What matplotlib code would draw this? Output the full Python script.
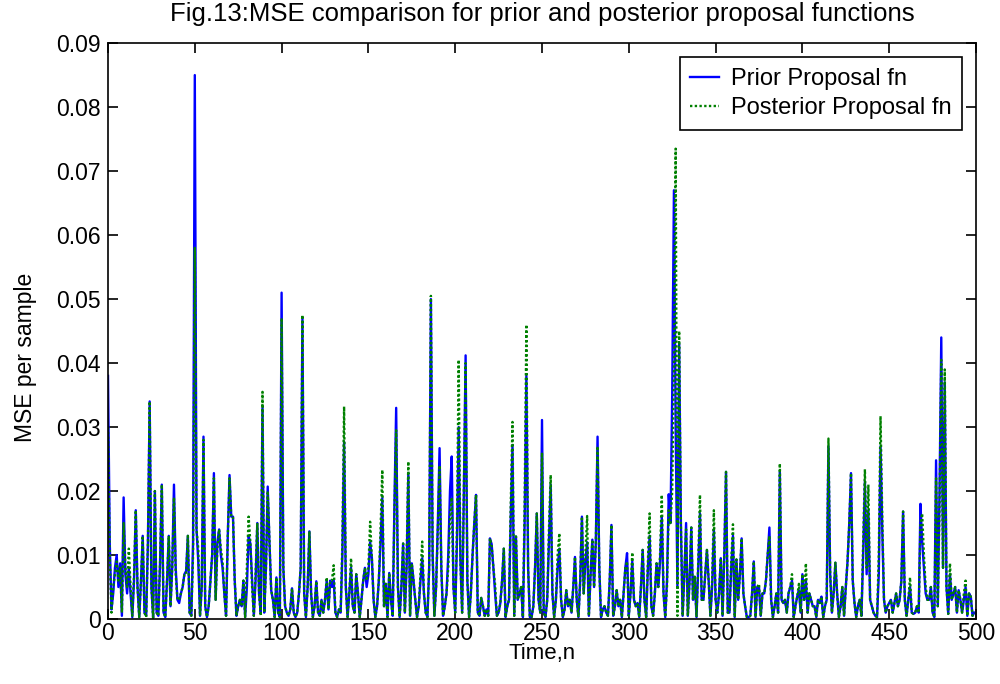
import numpy as np
import matplotlib
matplotlib.use("Agg")
import matplotlib.pyplot as plt

plt.rcParams['font.family'] = ['Liberation Sans', 'DejaVu Sans']

# MSE per sample, in units of 1e-3, for n = 0..499
prior_milli = [
    38, 12, 1.5, 4, 8, 10, 5, 8.7, 0.5, 19,
    7, 4, 8, 4, 0.3, 6, 17, 5, 0.3, 6,
    13, 1, 0.5, 12, 34, 5, 0.2, 20, 1, 0.5,
    9, 21, 1, 0.3, 6, 13, 2, 8, 21, 8,
    3, 2.5, 4, 5, 7, 7.5, 13, 1, 0.5, 12,
    85, 14, 9, 0.5, 5, 28.5, 2, 0.3, 2, 6,
    10, 22.8, 3, 12, 14, 10, 8, 4, 0.5, 13,
    22.5, 16, 16, 6, 0.5, 2, 3, 2, 6, 0.3,
    5, 13, 11.8, 6, 0.5, 6, 15, 4, 1, 33,
    1, 8, 20.7, 12, 4.5, 3, 0.3, 6.5, 1, 0.3,
    51, 8, 2, 1, 0.5, 1.5, 4.8, 1, 0.3, 1,
    4, 8, 47, 4, 0.3, 5, 13.7, 4, 0.3, 2,
    5.9, 1, 0.5, 3, 1, 3, 6, 1.5, 6, 5,
    6, 1, 0.3, 1.5, 1, 10, 27.7, 5, 0.3, 4,
    8, 2, 1, 7, 4, 0.3, 3, 6, 8, 5,
    7, 12, 9.5, 3, 0.3, 2, 6, 12, 18.9, 2,
    5.5, 0.3, 7.2, 3, 0.5, 18, 33, 5, 0.3, 5,
    11.8, 1, 8, 22.8, 0.5, 8.7, 6, 3, 0.3, 2,
    6, 9.5, 4, 1, 0.3, 8, 50, 10, 0.5, 5,
    15, 26.7, 8, 0.5, 2, 4, 10, 20, 25.4, 5,
    1, 12, 30, 9, 1, 20, 41.2, 6, 0.3, 4,
    10, 15, 19.4, 1, 0.5, 3.3, 2, 0.5, 1.5, 0.5,
    12.6, 11.7, 8, 4, 0.5, 1, 2.5, 6, 11, 0.3,
    2, 3, 16, 27.2, 0.5, 12.9, 3, 4, 5, 0.3,
    15, 38, 8, 0.3, 0.3, 2, 8, 16.5, 3, 1,
    31.1, 1, 0.3, 3, 12, 21, 4, 0.3, 3, 8,
    11, 3, 0.3, 1.5, 4.5, 2, 3, 1, 5, 9.7,
    3, 0.3, 6, 16, 4, 9, 12, 0.5, 7, 12.4,
    5, 12, 28.5, 8, 0.3, 1.5, 2, 1, 0.5, 6,
    14.7, 0.5, 2, 4.5, 2, 3, 0.3, 4, 8, 10.3,
    0.5, 4, 9, 3, 2, 2.5, 0.3, 5, 10.8, 3,
    0.3, 8, 13, 2, 0.5, 4, 8.7, 5, 9, 16,
    4, 0.3, 6, 19.5, 15, 35, 67, 30, 5, 43,
    15, 0.5, 7, 15, 0.5, 6, 14.3, 3, 6.6, 0.3,
    8, 16.5, 3, 3, 7, 10.8, 6, 0.5, 5, 14,
    3, 1, 4, 9.5, 0.5, 10, 23, 1, 1, 8,
    13, 0.3, 9.3, 3, 7, 12.6, 4, 2, 0.3, 0.3,
    0.5, 4, 9, 0.3, 5, 5, 0.5, 4, 4, 6,
    10, 14.3, 3, 0.3, 2, 4, 1, 23, 3, 2.5,
    3, 1, 4, 5, 6, 0.3, 2, 3.5, 4.5, 1,
    7, 3, 6, 1, 4, 3, 2, 2, 0.3, 3,
    2.5, 3.5, 0.3, 2, 3, 27, 7, 1, 4, 8.8,
    4, 0.3, 2, 5, 0.5, 5, 9, 15, 22.8, 6,
    2.5, 0.3, 2, 3, 0.5, 10, 21.5, 7, 17, 3,
    2, 1, 0.5, 0.3, 7, 27, 14, 3, 1, 2,
    2.5, 3, 1, 2.5, 4, 2, 3, 6, 16.8, 3,
    0.5, 3, 5, 1, 0.8, 1, 2, 1, 18, 12,
    8, 4, 3, 3, 5, 1, 0.3, 24.8, 2, 20,
    44, 8, 37, 5, 0.8, 7, 3, 4, 5, 1,
    4.5, 3, 1, 3, 5, 0.5, 4, 3.5, 0.5, 1,
]

posterior_milli = [
    30, 10, 1, 5, 7, 9, 6, 8, 1, 15,
    8, 5, 11, 5, 0.5, 7, 17, 5, 0.3, 6,
    13, 1, 0.3, 12, 34, 5, 0.2, 20, 1, 0.5,
    9, 21, 1, 0.3, 6, 13, 2, 8, 19, 7,
    3, 3, 4, 5, 7, 7, 13, 1, 0.5, 10,
    58, 14, 11, 0.5, 5, 28, 2, 0.3, 2, 6,
    10, 22, 3, 11, 14, 11, 9, 4, 0.5, 13,
    22, 16, 16, 6, 0.5, 2, 3, 2, 6, 0.3,
    8, 16, 12, 5, 0.5, 7, 15, 4, 0.5, 35.5,
    1, 8, 20, 12, 4.5, 3, 0.3, 6.5, 1, 0.3,
    47, 8, 2, 1, 0.5, 1.5, 4.8, 1, 0.3, 1,
    4, 8, 47.5, 4, 0.3, 5, 13.7, 4, 0.3, 2,
    5.9, 1, 0.5, 3, 1, 3, 6.5, 1.5, 6, 6,
    8.4, 1, 0.3, 1.5, 1, 12, 33.2, 5, 0.3, 4,
    9.5, 2, 1, 7, 4, 0.3, 3, 6, 8, 6,
    8, 15.2, 9.5, 3, 0.3, 2, 6, 14, 23.3, 2,
    5.5, 0.3, 7.2, 3, 0.5, 17, 29.5, 5, 0.3, 5,
    11.8, 1, 9, 24.6, 0.5, 8.7, 6, 3, 0.3, 2,
    7, 12.1, 4, 1, 0.3, 8, 50.5, 10, 0.5, 5,
    14, 24, 8, 0.5, 2, 4, 8, 16, 19, 5,
    1, 14, 40.5, 9, 1, 20, 40, 6, 0.3, 4,
    10, 15, 19.4, 1, 0.5, 3.3, 2, 0.5, 1.5, 0.5,
    12.6, 11.5, 8, 5.3, 0.5, 1, 2.5, 6, 11, 0.3,
    2, 3, 18, 30.8, 0.5, 12.9, 3, 4, 5, 0.3,
    18, 46, 8, 0.3, 0.3, 2, 8, 16.5, 3, 1,
    26, 1, 0.3, 3, 14, 22.5, 4, 0.3, 3, 10,
    13.4, 3, 0.3, 1.5, 4.5, 2, 3, 1, 5, 9.7,
    3, 0.3, 6, 16, 4, 10, 16.1, 0.5, 7, 12.4,
    5, 12, 27, 8, 0.3, 1.5, 2, 1, 0.5, 6,
    14.7, 0.5, 2, 4.5, 2, 3, 0.3, 4, 8, 9,
    0.5, 4, 10.4, 3, 2, 2.5, 0.3, 5, 10.8, 3,
    0.3, 9, 16.5, 2, 0.5, 4, 8.7, 5, 10, 19.4,
    4, 0.3, 5, 17, 15, 20, 40, 73.5, 0.5, 45,
    15, 0.5, 7, 14, 0.5, 6, 14.3, 3, 6.6, 0.3,
    9, 19.4, 3, 3, 7, 10.8, 6, 0.5, 6, 17,
    3, 1, 4, 9.5, 0.5, 10, 23, 1, 1, 9,
    14.8, 0.3, 9.3, 3, 7, 12.6, 4, 2, 0.3, 0.3,
    0.5, 4, 9, 0.3, 5, 5.5, 0.5, 4, 4, 6,
    10, 13, 3, 0.3, 2, 4, 1, 24.3, 3, 2.5,
    3, 1, 4, 5, 7, 0.3, 2, 3.5, 5.5, 1,
    7, 3, 8.7, 1, 4, 3, 2, 2, 0.3, 3,
    2.5, 3.5, 0.3, 2, 3, 28.2, 7, 1, 4, 8.8,
    4, 0.3, 2, 5, 0.5, 5, 9, 15, 22.8, 6,
    2.5, 0.3, 2, 3, 0.5, 12, 23.4, 8, 21, 3,
    2, 1, 0.5, 0.3, 10, 31.7, 16, 3, 1, 2,
    2.5, 3, 1, 2.5, 4, 2, 3, 6, 16.8, 3,
    0.5, 3, 6.5, 1, 0.8, 1, 2, 1, 15, 16.5,
    10, 5, 3, 3, 5, 1, 0.3, 22, 2, 18,
    40.5, 8, 39, 5, 0.8, 8.7, 3, 4, 5, 1,
    4.5, 3, 1, 4, 6, 0.5, 4, 3.5, 0.5, 1,
]

prior_mse = np.array(prior_milli) / 1000.0
posterior_mse = np.array(posterior_milli) / 1000.0
n = np.arange(len(prior_mse))

x_ticks = [0, 50, 100, 150, 200, 250, 300, 350, 400, 450, 500]
y_ticks = [0, 0.01, 0.02, 0.03, 0.04, 0.05, 0.06, 0.07, 0.08, 0.09]

fig = plt.figure(figsize=(10, 6.84), dpi=100)
ax = fig.add_axes([0.108, 0.095, 0.868, 0.842])

ax.plot(n, prior_mse, color=(0, 0, 1), lw=1.7, label='Prior Proposal fn')
ax.plot(n, posterior_mse, color=(0, 0.5, 0), lw=1.7, ls=(0, (1, 1)),
        label='Posterior Proposal fn')

ax.set_xlim(0, 500)
ax.set_ylim(0, 0.09)
ax.set_xticks(x_ticks)
ax.set_yticks(y_ticks)
ax.set_yticklabels(['0'] + [f'{v:.2f}' for v in y_ticks[1:]])
ax.tick_params(direction='in', top=True, right=True, labelsize=16.5,
               length=7, width=1.2)
ax.tick_params(axis='x', pad=2)
ax.tick_params(axis='y', pad=5)
for s in ax.spines.values():
    s.set_linewidth(1.2)

ax.set_title('Fig.13:MSE comparison for prior and posterior proposal functions',
             fontsize=18.5, pad=16)
ax.set_xlabel('Time,n', fontsize=16, labelpad=-1)
ax.set_ylabel('MSE per sample', fontsize=16.5)
ax.yaxis.set_label_coords(-0.082, 0.455)

leg = ax.legend(loc='upper right', fontsize=17, fancybox=False,
                edgecolor='black', framealpha=1, handlelength=1.2,
                handletextpad=0.5, borderaxespad=0.6, labelspacing=0.3,
                borderpad=0.45)
leg.get_frame().set_linewidth(1.2)

fig.savefig('out.png', dpi=100, facecolor='white')
